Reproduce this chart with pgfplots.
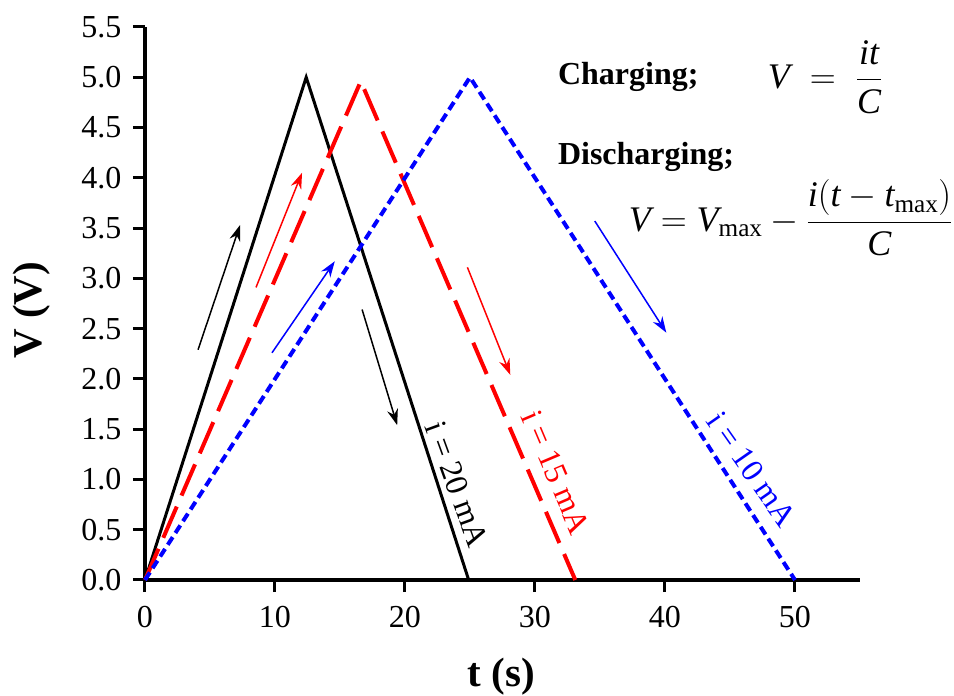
\RequirePackage{fix-cm}
\documentclass[border=0pt]{standalone}
\usepackage{amsmath}
\usepackage{fontspec}
\setmainfont{Liberation Serif}
\usepackage{pgfplots}
\pgfplotsset{compat=1.18}
\usetikzlibrary{arrows.meta}
\newcommand{\fs}{\fontsize{32}{38}\selectfont}
\newcommand{\fm}{\fontsize{36}{42}\selectfont}
\begin{document}
\begin{tikzpicture}
\useasboundingbox (-145pt,-116pt) rectangle (809pt,580pt);
\begin{axis}[
  at={(0,0)}, anchor=south west,
  scale only axis, width=715pt, height=553pt,
  xmin=0, xmax=55, ymin=0, ymax=5.5,
  axis lines=left, axis line style={-, line width=4pt},
  xtick={0,10,20,30,40,50},
  ytick={0,0.5,1,1.5,2,2.5,3,3.5,4,4.5,5,5.5},
  tick align=outside, major tick length=12pt,
  tick style={line width=3pt, black},
  /pgf/number format/assume math mode=true,
  tick label style={font=\fs},
  yticklabel style={xshift=-8pt, /pgf/number format/.cd, fixed, fixed zerofill, precision=1},
  xticklabel style={yshift=-11pt, /pgf/number format/.cd, fixed, precision=0},
  xlabel={\textbf{t (s)}},
  ylabel={\textbf{V (V)}},
  label style={font=\fontsize{41}{48}\selectfont},
  xlabel style={at={(axis description cs:0.4986,-0.175)}, anchor=center},
  ylabel style={at={(axis description cs:-0.159,0.488)}, anchor=center},
  clip=false,
]
\addplot[black, line width=3pt] coordinates {(0,0) (12.4,5.0) (24.9,0)};
\addplot[red, line width=4pt, dash pattern=on 34pt off 12pt] coordinates {(0,0) (16.6,4.96) (33.1,0)};
\addplot[blue, line width=4pt, dash pattern=on 9pt off 5pt] coordinates {(0,0) (25,5.0) (50,0)};

\draw[black, line width=1.5pt, -{Stealth[length=16pt,width=11pt]}] (axis cs:4.08,2.29) -- (axis cs:7.31,3.53);
\draw[red, line width=1.5pt, -{Stealth[length=16pt,width=11pt]}] (axis cs:8.54,2.91) -- (axis cs:12.08,4.05);
\draw[blue, line width=1.5pt, -{Stealth[length=16pt,width=11pt]}] (axis cs:9.77,2.26) -- (axis cs:14.6,3.17);
\draw[black, line width=1.5pt, -{Stealth[length=16pt,width=11pt]}] (axis cs:16.7,2.69) -- (axis cs:19.4,1.54);
\draw[red, line width=1.5pt, -{Stealth[length=16pt,width=11pt]}] (axis cs:24.8,3.11) -- (axis cs:28.1,2.04);
\draw[blue, line width=1.5pt, -{Stealth[length=16pt,width=11pt]}] (axis cs:34.6,3.57) -- (axis cs:40.1,2.46);

\node[rotate=-70, font=\fs, text=black] at (axis cs:24.0,0.95) {i = 20 mA};
\node[rotate=-67, font=\fs, text=red] at (axis cs:31.6,1.07) {i = 15 mA};
\node[rotate=-55, font=\fs, text=blue] at (axis cs:46.7,1.10) {i = 10 mA};

\node[anchor=base west, font=\bfseries\fs] at (axis cs:31.5,4.93) {Charging;};
\node[anchor=west, font=\fm, inner sep=0pt] at (axis cs:47.9,5.0) {$\textit{V} \;=\; \dfrac{\textit{it}}{\textit{C}}$};
\node[anchor=base west, font=\bfseries\fs] at (axis cs:31.5,4.13) {Discharging;};
\node[anchor=west, font=\fm, inner sep=0pt] at (axis cs:37.2,3.6) {$\textit{V} = \textit{V}_{\text{max}} - \dfrac{\textit{i}(\textit{t} - \textit{t}_{\text{max}})}{\textit{C}}$};
\end{axis}
\end{tikzpicture}
\end{document}
